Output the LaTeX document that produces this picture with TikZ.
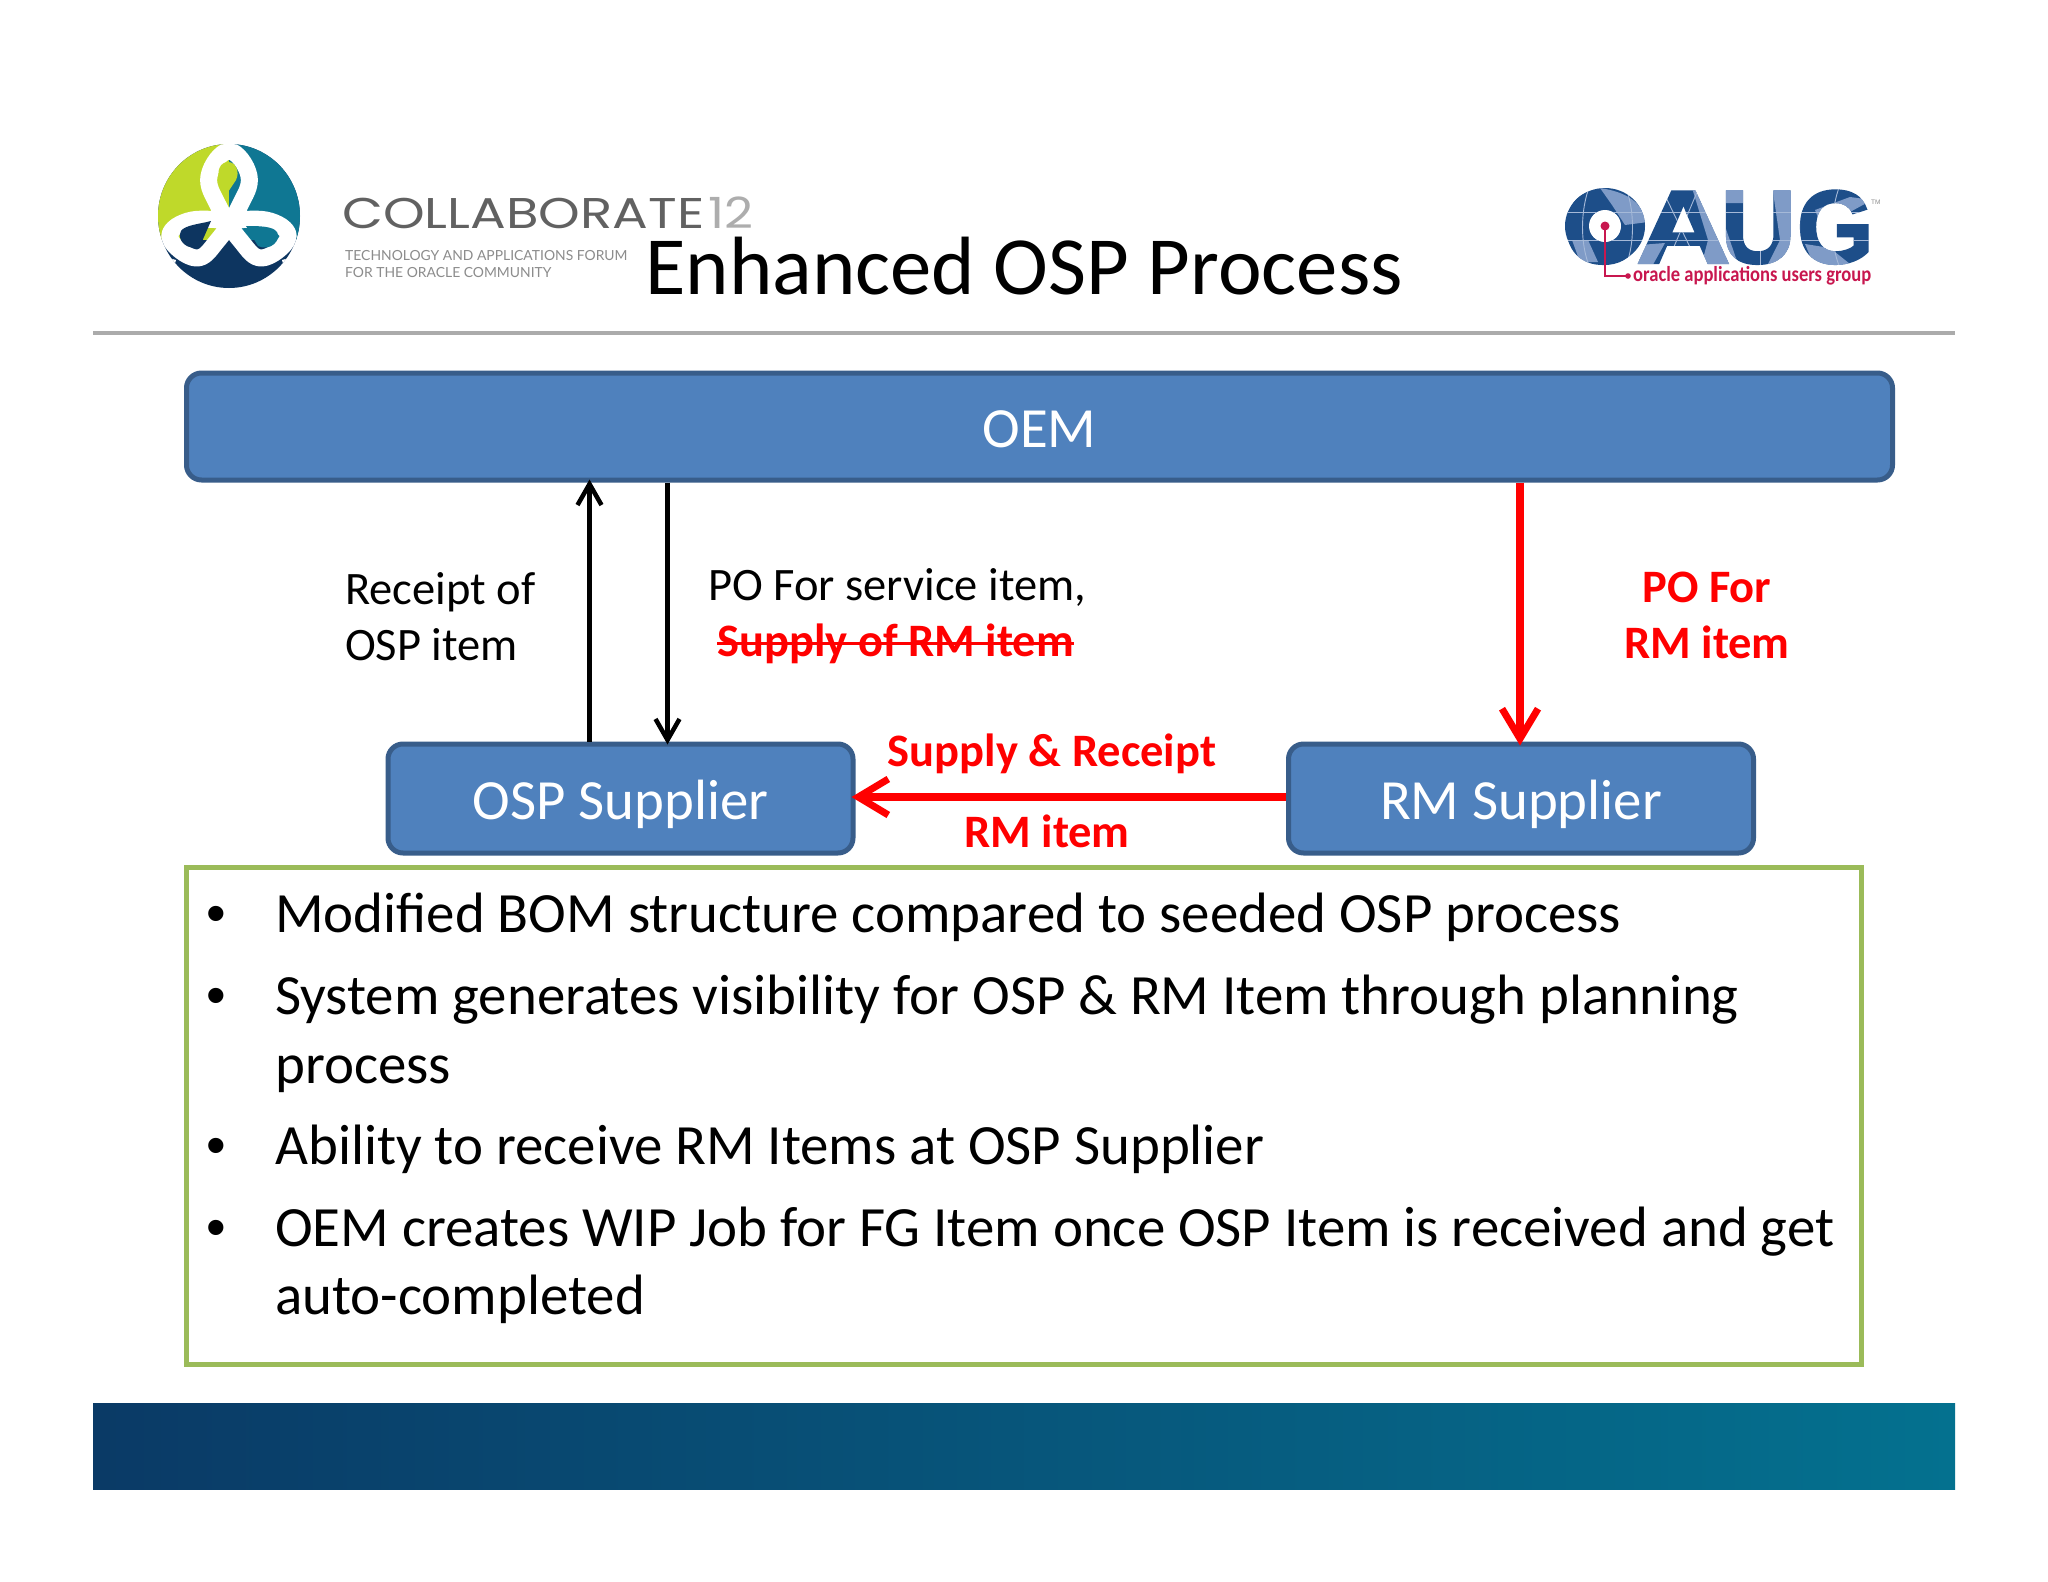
\documentclass[tikz,border=0pt]{standalone}
\usepackage{fontspec}
\setmainfont{Carlito}
\newfontfamily\logofont{Lato}
\newfontfamily\collfont{Poppins}
\newfontfamily\oaugfont{Liberation Sans}
\newfontfamily\oaugheavy{Liberation Sans}[FakeBold=2,BoldFeatures={FakeBold=2}]
\usetikzlibrary{arrows.meta,shapes.geometric}
\newcommand{\fsz}[1]{\fontsize{#1}{#1}\selectfont}
\definecolor{boxfill}{HTML}{4F81BD}
\definecolor{boxline}{HTML}{385D8A}
\definecolor{boxgreen}{HTML}{9BBB59}
\definecolor{hdrline}{HTML}{ABABAB}
\definecolor{bandL}{HTML}{0A3A66}
\definecolor{bandR}{HTML}{04718F}
\definecolor{lgreen}{HTML}{BFD92A}
\definecolor{lteal}{HTML}{0F7793}
\definecolor{lnavy}{HTML}{0D3560}
\definecolor{oaugdark}{HTML}{1D4E89}
\definecolor{oauglight}{HTML}{7F9BC7}
\definecolor{oaugred}{HTML}{C8174F}
\definecolor{pureRed}{HTML}{FF0000}
\tikzset{
  x=1pt,y=-1pt,
  box/.style={rectangle,rounded corners=15pt,draw=boxline,fill=boxfill,line width=5pt,text=white,font=\fsz{56.8},inner sep=0pt,text height=41pt,text depth=0pt},
  lbl/.style={inner sep=0pt,anchor=base west,font=\fsz{46.5}},
  redlbl/.style={inner sep=0pt,anchor=base,text=pureRed,font=\fsz{46.5}\bfseries},
  body/.style={inner sep=0pt,anchor=base west,font=\fsz{56.9}},
  bul/.style={inner sep=0pt,anchor=base west,font=\oaugfont\fsz{56}},
  blk/.style={line width=5pt,shorten >=-3pt,-{Straight Barb[length=21pt,width=24pt,line width=4.5pt]}},
  redarr/.style={line width=7.5pt,draw=pureRed,shorten >=-4pt,-{Straight Barb[length=30pt,width=36pt,line width=7pt]}},
  grid line/.style={draw=oauglight!70!white,line width=0.9pt},
}
\begin{document}
\begin{tikzpicture}
\useasboundingbox (0,0) rectangle (2048,1582);
\fill[white] (0,0) rectangle (2048,1582);

% Collaborate logo
\begin{scope}
  \clip (229,216) ellipse [x radius=71,y radius=72];
  \fill[lnavy] (150,140) rectangle (310,295);
  \fill[lgreen] (150,140) rectangle (229,240);
  \fill[lteal] (229,140) rectangle (310,240);
  \draw[white,line width=17pt,line join=round] plot[smooth cycle,tension=0.7] coordinates {
    (229,151) (209,176) (219,207) (240,240) (262,258) (288,238) (270,221)
    (229,220) (188,221) (170,238) (196,258) (218,240) (239,207) (249,176)};
  \fill[white] (140,250) -- (176,260) -- (165,300) -- (130,300) -- cycle;
  \fill[white] (318,250) -- (282,260) -- (293,300) -- (328,300) -- cycle;
  \fill[lgreen] (228,162) .. controls (236,162) and (240,172) .. (236,180) -- (228,192) -- (220,180) .. controls (216,172) and (220,162) .. (228,162) -- cycle;
  \fill[lnavy] (211,221) -- (200,246) .. controls (188,252) and (176,240) .. (181,231) .. controls (185,225) and (200,224) .. (211,221) -- cycle;
  \fill[lteal] (246,226) -- (258,246) .. controls (270,252) and (282,240) .. (277,232) .. controls (273,226) and (258,226) .. (246,226) -- cycle;
\end{scope}
\node[inner sep=0pt,anchor=base west,text=black!62,font=\collfont\fsz{43}] (coll) at (342,228) {\scalebox{1.233}[1]{COLLABORATE}\kern4pt\textcolor{black!32}{\scalebox{1.17}[1]{12}}};
\node[inner sep=0pt,anchor=base west,text=black!45,font=\logofont\fsz{13.9}] (fr1) at (345,260) {TECHNOLOGY AND APPLICATIONS FORUM};
\node[inner sep=0pt,anchor=base west,text=black!45,font=\logofont\fsz{13.9}] (fr2) at (345,277) {FOR THE ORACLE COMMUNITY};

% OAUG logo
\fill[oaugdark] (1605,226) ellipse [x radius=40,y radius=38];
\node[inner sep=0pt,anchor=base west,text=oaugdark,font=\oaugheavy\bfseries\fsz{104}] (oaug) at (1563,263)
  {O\kern-8pt\scalebox{1.26}[1]{A}\kern-10pt U\kern1pt\scalebox{0.95}[1]{G}};
\fill[white] (1605,226) circle (16);
\begin{scope}[blend mode=lighten]
  \fill[oauglight] (1600,188) .. controls (1625,192) and (1640,200) .. (1648,222) -- (1625,225) -- (1612,205) -- cycle;
  \fill[oauglight] (1572,240) -- (1588,240) -- (1598,262) -- (1580,262) -- cycle;
  \fill[oauglight] (1692,188) -- (1712,188) -- (1740,270) -- (1700,270) -- (1708,240) -- cycle;
  \fill[oauglight] (1640,245) -- (1665,243) -- (1650,270) -- (1636,270) -- cycle;
  \fill[oauglight] (1772,185) -- (1800,185) -- (1800,270) -- (1765,270) -- (1780,240) -- cycle;
  \fill[oauglight] (1725,185) -- (1750,190) -- (1745,203) -- (1725,203) -- cycle;
  \fill[oauglight] (1815,210) -- (1850,197) -- (1872,200) -- (1850,212) -- (1825,235) -- cycle;
  \fill[oauglight] (1805,244) -- (1830,248) -- (1855,268) -- (1815,268) -- cycle;
  \draw[grid line] (1560,240) -- (1875,240);
  \draw[grid line] (1560,212) -- (1875,212);
  \draw[grid line] (1590,185) .. controls (1580,210) and (1580,245) .. (1590,268);
  \draw[grid line] (1625,185) .. controls (1635,210) and (1635,245) .. (1625,268);
  \draw[grid line] (1660,185) -- (1700,268);
  \draw[grid line] (1700,185) -- (1665,268);
  \draw[grid line] (1760,185) -- (1760,268);
  \draw[grid line] (1840,185) .. controls (1830,210) and (1830,245) .. (1840,268);
\end{scope}
\coordinate (pinA) at (1605,226);
\coordinate (pinB) at (1605,276);
\coordinate (pinC) at (1628,276);
\draw[oaugred,line width=2.2pt] (pinA) -- (pinB) -- (pinC);
\fill[oaugred] (pinA) circle (4.5);
\fill[oaugred] (pinC) circle (2.8);
\node[inner sep=0pt,anchor=base west,text=oaugred,font=\bfseries\fsz{21.5}] (oaugt) at (1633,281) {\scalebox{0.863}[1]{oracle applications users group}};
\node[inner sep=0pt,anchor=base west,text=black!45,font=\oaugfont\fsz{6.5}] (tm) at (1871,204) {TM};

% title
\node[inner sep=0pt,anchor=base,font=\fsz{82.7}] (title) at (1024,294) {Enhanced OSP Process};
\coordinate (hdrL) at (93,333);
\coordinate (hdrR) at (1955,333);
\draw[hdrline,line width=3.5pt] (hdrL) -- (hdrR);

% boxes
\node[box,minimum width=1706pt,minimum height=107pt] (oem) at (1039.5,426.5) {OEM};
\node[box,minimum width=465pt,minimum height=109pt] (osp) at (620.5,798.5) {OSP Supplier};
\node[box,minimum width=465pt,minimum height=109pt] (rm) at (1521,798.5) {RM Supplier};

% connectors
\coordinate (xup) at (589.5,0);
\coordinate (xdn) at (667.5,0);
\coordinate (xred) at (1520,0);
\coordinate (yred) at (0,797);
\draw[blk] (xup |- osp.north) -- (xup |- oem.south);
\draw[blk] (xdn |- oem.south) -- (xdn |- osp.north);
\draw[redarr] (xred |- oem.south) -- (xred |- rm.north);
\draw[redarr,line width=8.5pt] (rm.west |- yred) -- (osp.east |- yred);

% labels
\node[lbl] (r1) at (345,604) {Receipt of};
\node[lbl] (r2) at (345,660) {OSP item};
\node[lbl] (p1) at (708,600) {PO For service item,};
\node[redlbl,anchor=base west] (p2) at (717,656) {Supply of RM item};
\draw[pureRed,line width=3pt] (p2.west |- 0,643) -- (p2.east |- 0,643);
\node[redlbl] (q1) at (1707,602) {PO For};
\node[redlbl] (q2) at (1707,658) {RM item};
\node[redlbl] (s1) at (1052,766) {Supply \& Receipt};
\node[redlbl] (s2) at (1047,847) {RM item};

% text box
\node[draw=boxgreen,line width=5pt,rectangle,minimum width=1675pt,minimum height=497pt,inner sep=0pt] (tb) at (1023.5,1116) {};
\node[bul] (b1) at (206,932) {•}; \node[body] (t1) at (275,932) {Modified BOM structure compared to seeded OSP process};
\node[bul] (b2) at (206,1014) {•}; \node[body] (t2) at (275,1014) {System generates visibility for OSP \& RM Item through planning};
\node[body] (t2b) at (275,1083) {process};
\node[bul] (b3) at (206,1164) {•}; \node[body] (t3) at (275,1164) {Ability to receive RM Items at OSP Supplier};
\node[bul] (b4) at (206,1246) {•}; \node[body] (t4) at (275,1246) {OEM creates WIP Job for FG Item once OSP Item is received and get};
\node[body] (t4b) at (275,1314) {auto-completed};

% bottom band
\shade[left color=bandL,right color=bandR] (93,1403) rectangle (1955,1489);
\end{tikzpicture}
\end{document}
